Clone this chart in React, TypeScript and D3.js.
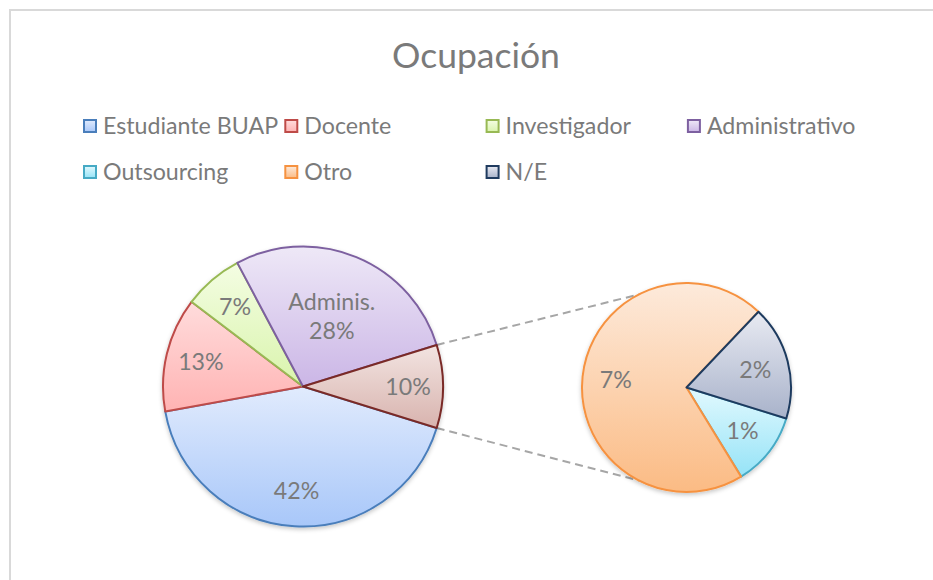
import React from "react";
import * as d3 from "d3";

// main pie categories (percent of respondents)
const mainLabels = ["Estudiante BUAP", "Docente", "Investigador", "Administrativo"];
const mainValues = [42.4, 13.2, 6.9, 28.0];
// categories grouped into the secondary pie
const subLabels = ["Outsourcing", "Otro", "N/E"];
const subValues = [1.1, 6.8, 1.7];

const legendOrder = [...mainLabels, ...subLabels];

const strokeColor: Record<string, string> = {
    "Estudiante BUAP": "#4a7ebb",
    "Docente": "#be4b48",
    "Investigador": "#98b954",
    "Administrativo": "#7d60a0",
    "Outsourcing": "#46aac5",
    "Otro": "#f69240",
    "N/E": "#1f3b5f",
    "__other": "#7a2a28",
};
const fillTop: Record<string, string> = {
    "Estudiante BUAP": "#e1ebfd",
    "Docente": "#ffdcdc",
    "Investigador": "#f4fde3",
    "Administrativo": "#eee8f7",
    "Outsourcing": "#e2f9fe",
    "Otro": "#fdeadb",
    "N/E": "#e8eaf2",
    "__other": "#f2e4e1",
};
const fillBottom: Record<string, string> = {
    "Estudiante BUAP": "#a8c7f9",
    "Docente": "#ffb3b3",
    "Investigador": "#d9f4ac",
    "Administrativo": "#cbb6e6",
    "Outsourcing": "#95e3f7",
    "Otro": "#fbbb84",
    "N/E": "#a8b2ca",
    "__other": "#d8b3ae",
};

const W = 933, H = 580;
const font = "Lato, 'Open Sans', sans-serif";
const textColor = "#7a7a7a";

const mainC = {x: 303, y: 386.5}, mainR = 140;
const subC = {x: 686.5, y: 387.5}, subR = 104.5;

const gid = (k: string) => "g_" + k.replace(/[^a-zA-Z]/g, "");

export default function App() {
    const otherValue = d3.sum(subValues);
    const total = d3.sum(mainValues) + otherValue;
    const otherAngle = (otherValue / total) * 2 * Math.PI;
    const start = Math.PI / 2 + otherAngle / 2;

    const mainData = [...mainLabels.map((l, i) => ({key: l, value: mainValues[i]})), {key: "__other", value: otherValue}];
    const subData = subLabels.map((l, i) => ({key: l, value: subValues[i]}));

    const pieMain = d3.pie<any>().sort(null).value(d => d.value).startAngle(start).endAngle(start + 2 * Math.PI);
    const pieSub = d3.pie<any>().sort(null).value(d => d.value).startAngle(start).endAngle(start + 2 * Math.PI);
    const arcsMain = pieMain(mainData);
    const arcsSub = pieSub(subData);

    const arcMain = d3.arc<any>().innerRadius(0).outerRadius(mainR);
    const arcSub = d3.arc<any>().innerRadius(0).outerRadius(subR);
    const pct = (v: number) => Math.round((v / total) * 100) + "%";

    const polar = (c: {x: number, y: number}, r: number, a: number) => [c.x + r * Math.sin(a), c.y - r * Math.cos(a)];

    // connector lines: from the edges of the "other" slice to the secondary pie
    const connOffset = (63 * Math.PI) / 180;
    const lines = [
        [polar(mainC, mainR, Math.PI / 2 - otherAngle / 2), polar(subC, subR, 1.5 * Math.PI + connOffset)],
        [polar(mainC, mainR, Math.PI / 2 + otherAngle / 2), polar(subC, subR, 1.5 * Math.PI - connOffset)],
    ];

    const colX = d3.scaleLinear().domain([0, 1]).range([83, 284.3]);
    const rowY = d3.scaleLinear().domain([0, 1]).range([126, 172]);

    return (
        <svg width={W} height={H} style={{position: "absolute", left: 0, top: 0, background: "#fff"}}>
            <defs>
                {Object.keys(fillTop).map(k => (
                    <linearGradient key={k} id={gid(k)} x1="0" y1="0" x2="0" y2="1">
                        <stop offset="0" stopColor={fillTop[k]}/>
                        <stop offset="1" stopColor={fillBottom[k]}/>
                    </linearGradient>
                ))}
                <filter id="shadow" x="-20%" y="-20%" width="140%" height="140%">
                    <feDropShadow dx="0" dy="2" stdDeviation="2" floodColor="#000" floodOpacity="0.22"/>
                </filter>
            </defs>
            <rect x={10} y={10} width={W + 10} height={H + 10} fill="none" stroke="#d9d9d9" strokeWidth={2}/>

            <text x={476} y={68} textAnchor="middle" fontFamily={font} fontSize={35.5} fill={textColor}>Ocupación</text>

            {legendOrder.map((l, i) => {
                const x = colX(i % 4), y = rowY(Math.floor(i / 4));
                return (
                    <g key={l}>
                        <rect x={x + 1} y={y - 6} width={12} height={12} fill={`url(#${gid(l)})`} stroke={strokeColor[l]} strokeWidth={2}/>
                        <text x={x + 20} y={y} dy="0.35em" fontFamily={font} fontSize={23.2} fill={textColor}>{l}</text>
                    </g>
                );
            })}

            {lines.map((ln, i) => (
                <line key={i} x1={ln[0][0]} y1={ln[0][1]} x2={ln[1][0]} y2={ln[1][1]}
                      stroke="#a6a6a6" strokeWidth={2} strokeDasharray="8,5"/>
            ))}

            <g transform={`translate(${mainC.x},${mainC.y})`} filter="url(#shadow)">
                {arcsMain.map(a => (
                    <path key={a.data.key} d={arcMain(a) as string} fill={`url(#${gid(a.data.key)})`}
                          stroke={strokeColor[a.data.key]} strokeWidth={2} strokeLinejoin="round"/>
                ))}
            </g>
            <g transform={`translate(${subC.x},${subC.y})`} filter="url(#shadow)">
                {arcsSub.map(a => (
                    <path key={a.data.key} d={arcSub(a) as string} fill={`url(#${gid(a.data.key)})`}
                          stroke={strokeColor[a.data.key]} strokeWidth={2} strokeLinejoin="round"/>
                ))}
            </g>

            <g fontFamily={font} fontSize={23.2} fill={textColor} textAnchor="middle">
                {arcsMain.map(a => {
                    const mid = (a.startAngle + a.endAngle) / 2;
                    const isAdmin = a.data.key === "Administrativo";
                    const [x, y] = polar(mainC, mainR * (isAdmin ? 0.54 : 0.75), mid);
                    if (isAdmin) {
                        return (
                            <text key={a.data.key} x={x} y={y}>
                                <tspan x={x} dy="-0.3em">Adminis.</tspan>
                                <tspan x={x} dy="1.25em">{pct(a.data.value)}</tspan>
                            </text>
                        );
                    }
                    return <text key={a.data.key} x={x} y={y} dy="0.35em">{pct(a.data.value)}</text>;
                })}
                {arcsSub.map(a => {
                    const mid = (a.startAngle + a.endAngle) / 2;
                    const [x, y] = polar(subC, subR * 0.68, mid);
                    return <text key={a.data.key} x={x} y={y} dy="0.35em">{pct(a.data.value)}</text>;
                })}
            </g>
        </svg>
    );
}
